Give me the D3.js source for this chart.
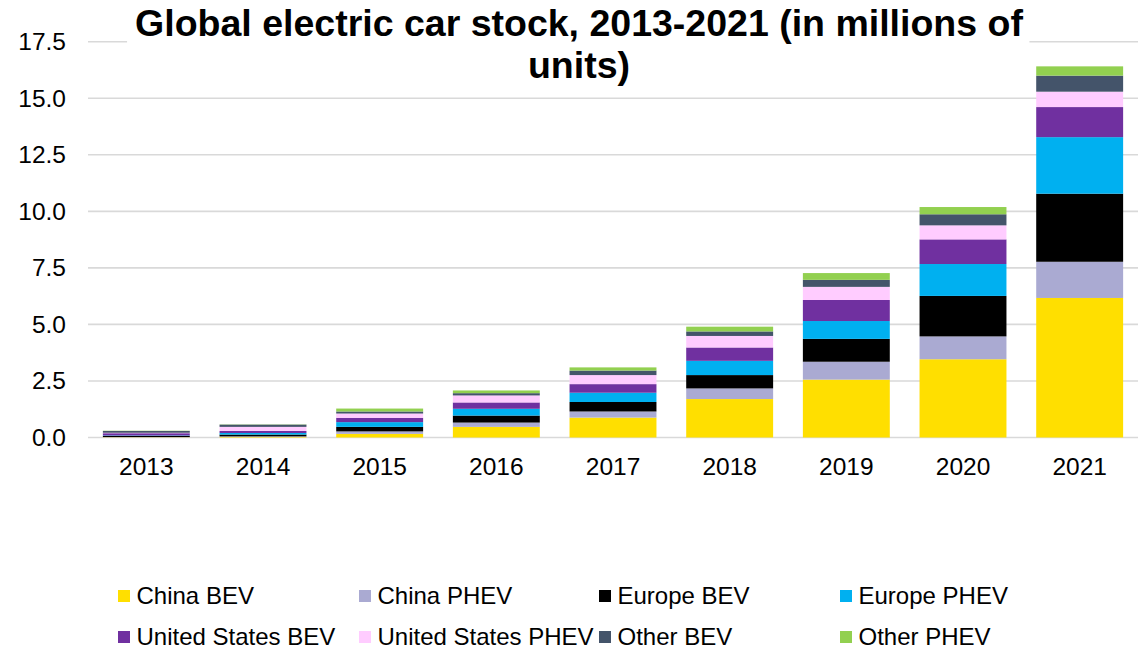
<!DOCTYPE html>
<html>
<head>
<meta charset="utf-8">
<script src="https://cdn.jsdelivr.net/npm/d3@7"></script>
<style>
  html, body { margin: 0; padding: 0; background: #fff; }
  svg { display: block; font-family: "Liberation Sans", Arial, sans-serif; }
</style>
</head>
<body>
<svg id="chart" width="1148" height="651"></svg>
<script>
// Stock of electric cars by region and powertrain, millions of units
const years = ["2013", "2014", "2015", "2016", "2017", "2018", "2019", "2020", "2021"];
const seriesNames = ["China BEV", "China PHEV", "Europe BEV", "Europe PHEV",
                     "United States BEV", "United States PHEV", "Other BEV", "Other PHEV"];
const chinaBEV   = [0.01, 0.03, 0.16, 0.47, 0.88, 1.70, 2.56, 3.46, 6.17];
const chinaPHEV  = [0.01, 0.02, 0.11, 0.19, 0.27, 0.47, 0.79, 1.01, 1.60];
const europeBEV  = [0.05, 0.08, 0.20, 0.31, 0.42, 0.59, 1.01, 1.79, 3.01];
const europePHEV = [0.02, 0.07, 0.21, 0.30, 0.41, 0.63, 0.79, 1.41, 2.50];
const usBEV      = [0.10, 0.09, 0.19, 0.28, 0.38, 0.59, 0.93, 1.09, 1.33];
const usPHEV     = [0.02, 0.18, 0.19, 0.31, 0.40, 0.51, 0.58, 0.62, 0.68];
const otherBEV   = [0.08, 0.10, 0.09, 0.10, 0.20, 0.20, 0.31, 0.49, 0.71];
const otherPHEV  = [0.01, 0.01, 0.13, 0.12, 0.14, 0.21, 0.30, 0.32, 0.41];
const yTicks = [0, 2.5, 5.0, 7.5, 10.0, 12.5, 15.0, 17.5];
const colors = ["#FFDF00", "#AAAAD2", "#000000", "#00B0F0",
                "#7030A0", "#FFCCFF", "#44546A", "#92D050"];

const seriesValues = [chinaBEV, chinaPHEV, europeBEV, europePHEV, usBEV, usPHEV, otherBEV, otherPHEV];

// Build rows for d3.stack
const rows = years.map((yr, i) => {
  const r = { year: yr };
  seriesNames.forEach((s, k) => { r[s] = seriesValues[k][i]; });
  return r;
});

const svg = d3.select("#chart");
const plotLeft = 88, plotRight = 1138, plotTop = 41.7, plotBottom = 437.5;

const x = d3.scaleBand().domain(years).range([plotLeft, plotRight])
  .paddingInner(0.255).paddingOuter(0.1275);
const y = d3.scaleLinear().domain([0, 17.5]).range([plotBottom, plotTop]);
const color = d3.scaleOrdinal().domain(seriesNames).range(colors);

// Gridlines
svg.append("g").selectAll("line").data(yTicks).join("line")
  .attr("x1", plotLeft).attr("x2", plotRight)
  .attr("y1", d => y(d)).attr("y2", d => y(d))
  .attr("stroke", "#d9d9d9").attr("stroke-width", 1.6);

// Y axis labels
const yAxis = d3.axisLeft(y).tickValues(yTicks).tickFormat(d3.format(".1f")).tickSize(0).tickPadding(0);
const gy = svg.append("g").attr("transform", "translate(66,0)").call(yAxis);
gy.select(".domain").remove();
gy.selectAll("text").attr("font-size", 24.5).attr("fill", "#000")
  .attr("font-family", "'Liberation Sans', Arial, sans-serif");

// X axis labels
const xAxis = d3.axisBottom(x).tickSize(0).tickPadding(0);
const gx = svg.append("g").attr("transform", `translate(0,${plotBottom + 20})`).call(xAxis);
gx.select(".domain").remove();
gx.selectAll("text").attr("font-size", 24.5).attr("fill", "#000")
  .attr("font-family", "'Liberation Sans', Arial, sans-serif");

// Stacked bars
const stacked = d3.stack().keys(seriesNames)(rows);
svg.append("g").selectAll("g").data(stacked).join("g")
  .attr("fill", d => color(d.key))
  .selectAll("rect").data(d => d).join("rect")
  .attr("x", d => x(d.data.year))
  .attr("width", x.bandwidth())
  .attr("y", d => y(d[1]))
  .attr("height", d => y(d[0]) - y(d[1]));

// Title with white backing
const titleG = svg.append("g");
const titleBg = titleG.append("rect").attr("fill", "#fff");
const title = titleG.append("text")
  .attr("text-anchor", "middle")
  .attr("font-size", 37.5).attr("font-weight", "bold").attr("fill", "#000");
title.append("tspan").attr("x", 579).attr("y", 36).text("Global electric car stock, 2013-2021 (in millions of");
title.append("tspan").attr("x", 579).attr("y", 78).text("units)");
const bb = title.node().getBBox();
titleBg.attr("x", bb.x - 8).attr("y", 0).attr("width", bb.width + 14).attr("height", bb.y + bb.height + 2);

// Legend
const legendCols = [118, 359, 599, 840];
const legendRows = [596, 637];
const legend = svg.append("g").selectAll("g").data(seriesNames).join("g")
  .attr("transform", (d, i) => `translate(${legendCols[i % 4]},${legendRows[Math.floor(i / 4)]})`);
legend.append("rect").attr("x", 0).attr("y", -6).attr("width", 12).attr("height", 12)
  .attr("fill", d => color(d));
legend.append("text").attr("x", 18.5).attr("y", 0).attr("dy", "0.35em")
  .attr("font-size", 24).attr("fill", "#000").text(d => d);
</script>
</body>
</html>
